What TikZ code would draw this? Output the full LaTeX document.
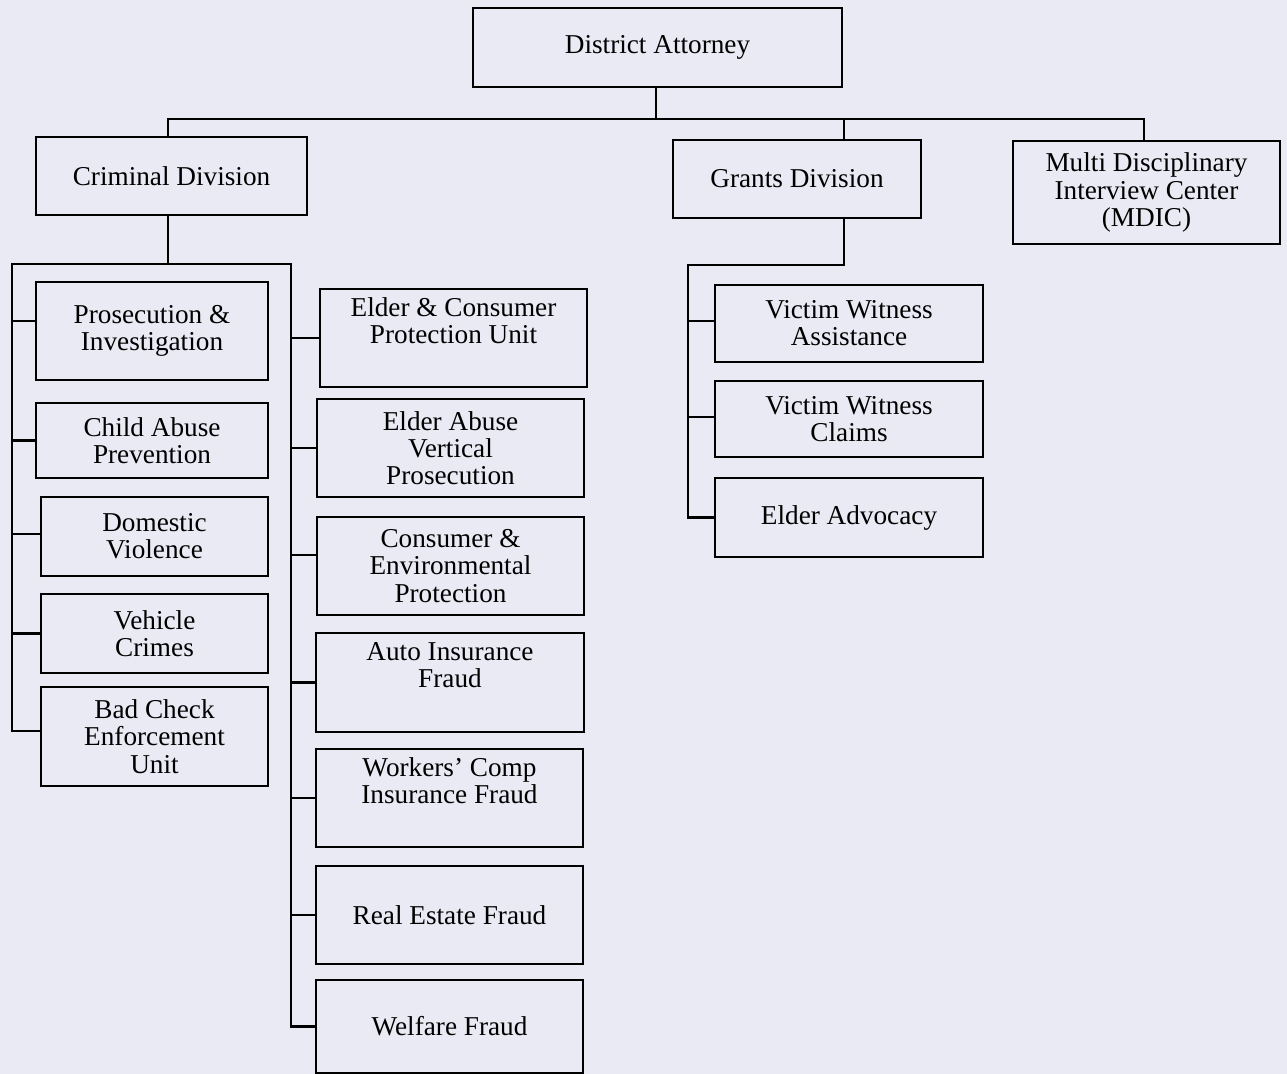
\documentclass[tikz,border=0pt]{standalone}
\usepackage{fontspec}
\setmainfont{Liberation Serif}
\usetikzlibrary{positioning}
\definecolor{bgcol}{RGB}{233,234,243}

\tikzset{
  unit/.style={draw, line width=1.3pt, fill=bgcol, align=center, inner sep=2pt,
    font=\fontsize{15.5}{15.5}\selectfont},
  link/.style={line width=1.2pt, line cap=rect},
}

\begin{document}
\begin{tikzpicture}[x=0.02cm, y=-0.02cm]

\pgfdeclarelayer{bg}    % background layer
\pgfsetlayers{bg,main}

\useasboundingbox (0,0) rectangle (1287,1074);

% top level
\node (da)[unit, minimum width=7.38cm, minimum height=1.58cm] at (657.5,47.5) {District Attorney};
\node (crim)[unit, minimum width=5.42cm, minimum height=1.56cm] at (171.5,176) {Criminal Division};
\node (grants)[unit, minimum width=4.96cm, minimum height=1.56cm] at (797,179) {Grants Division};
\node (mdic)[unit, minimum width=5.34cm, minimum height=2.06cm] at (1146.5,192.5) {Multi Disciplinary\\Interview Center\\(MDIC)};

% criminal, left column
\node (pros)[unit, minimum width=4.64cm, minimum height=1.96cm] at (152,331) {Prosecution \&\\Investigation};
\node (child)[unit, minimum width=4.64cm, minimum height=1.5cm] at (152,440.5) {Child Abuse\\Prevention};
\node (dv)[unit, minimum width=4.54cm, minimum height=1.58cm] at (154.5,536.5) {Domestic\\Violence};
\node (vc)[unit, minimum width=4.54cm, minimum height=1.58cm] at (154.5,633.5) {Vehicle\\Crimes};
\node (bce)[unit, minimum width=4.54cm, minimum height=1.98cm] at (154.5,736.5) {Bad Check\\Enforcement\\Unit};

% criminal, right column
\node (ecp)[unit, minimum width=5.34cm, minimum height=1.96cm] at (453.5,338) {Elder \& Consumer\\Protection Unit\\\strut};
\node (eavp)[unit, minimum width=5.34cm, minimum height=1.96cm] at (450.5,448) {Elder Abuse\\Vertical\\Prosecution};
\node (cep)[unit, minimum width=5.34cm, minimum height=1.96cm] at (450.5,566) {Consumer \&\\Environmental\\Protection};
\node (aif)[unit, minimum width=5.36cm, minimum height=1.98cm] at (450,682.5) {Auto Insurance\\Fraud\\\strut};
\node (wcif)[unit, minimum width=5.34cm, minimum height=1.96cm] at (449.5,798) {Workers' Comp\\Insurance Fraud\\\strut};
\node (ref)[unit, minimum width=5.34cm, minimum height=1.96cm] at (449.5,915) {Real Estate Fraud};
\node (wf)[unit, minimum width=5.34cm, minimum height=1.86cm] at (449.5,1026.5) {Welfare Fraud};

% grants
\node (vwa)[unit, minimum width=5.36cm, minimum height=1.54cm] at (849,323.5) {Victim Witness\\Assistance};
\node (vwc)[unit, minimum width=5.36cm, minimum height=1.52cm] at (849,419) {Victim Witness\\Claims};
\node (ea)[unit, minimum width=5.36cm, minimum height=1.58cm] at (849,517.5) {Elder Advocacy};

\coordinate (top) at (656,119);
\coordinate (ctop) at (168,119);
\coordinate (gtop) at (844,119);
\coordinate (mtop) at (1144,119);
\coordinate (cdown) at (168,264);
\coordinate (lbus) at (12,264);
\coordinate (rbus) at (291,264);
\coordinate (gdown) at (844,265);
\coordinate (gbus) at (688,265);

\begin{pgfonlayer}{bg}
\fill[bgcol] (0,0) rectangle (1287,1074);

\draw[link] (da.south -| top) -- (top);
\draw[link] (ctop |- crim.north) -- (ctop) -- (mtop) -- (mtop |- mdic.north);
\draw[link] (gtop) -- (gtop |- grants.north);

% criminal buses
\draw[link] (cdown |- crim.south) -- (cdown);
\draw[link] ([yshift=1.1mm]bce.west) -- ([yshift=1.1mm]bce.west -| lbus) -- (lbus) -- (rbus) -- (wf.west -| rbus) -- (wf.west);
\draw[link] ([yshift=2mm]pros.west) -- ([yshift=2mm]pros.west -| lbus);
\draw[link] (child.west) -- (child.west -| lbus);
\draw[link] ([yshift=0.5mm]dv.west) -- ([yshift=0.5mm]dv.west -| lbus);
\draw[link] (vc.west) -- (vc.west -| lbus);

\draw[link] (ecp.west) -- (ecp.west -| rbus);
\draw[link] (eavp.west) -- (eavp.west -| rbus);
\draw[link] ([yshift=2.2mm]cep.west) -- ([yshift=2.2mm]cep.west -| rbus);
\draw[link] (aif.west) -- (aif.west -| rbus);
\draw[link] (wcif.west) -- (wcif.west -| rbus);
\draw[link] (ref.west) -- (ref.west -| rbus);

% grants bus
\draw[link] (gdown |- grants.south) -- (gdown) -- (gbus) -- (gbus |- ea.west) -- (ea.west);
\draw[link] ([yshift=0.5mm]vwa.west) -- ([yshift=0.5mm]vwa.west -| gbus);
\draw[link] ([yshift=0.4mm]vwc.west) -- ([yshift=0.4mm]vwc.west -| gbus);
\end{pgfonlayer}
\end{tikzpicture}
\end{document}
